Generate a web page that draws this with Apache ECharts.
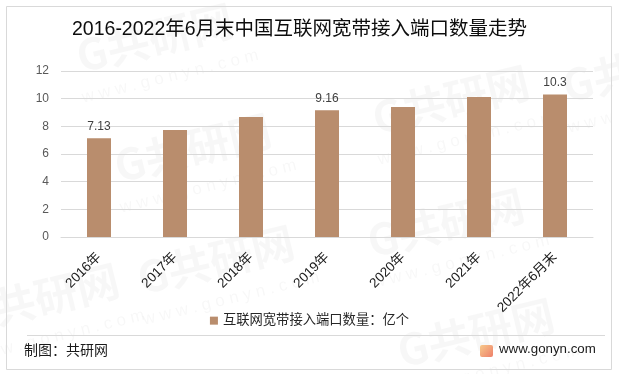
<!DOCTYPE html>
<html>
<head>
<meta charset="utf-8">
<style>
    html, body { margin: 0; padding: 0; background: #fff; }
    #chart { width: 619px; height: 374px; }
</style>
<script src="https://cdn.jsdelivr.net/npm/echarts@6/dist/echarts.min.js"></script>
</head>
<body>
<div id="chart"></div>
<script>
const categories = ['2016年', '2017年', '2018年', '2019年', '2020年', '2021年', '2022年6月末'];
const portValues = [7.13, 7.74, 8.68, 9.16, 9.4, 10.12, 10.3];
const labeledIndexes = [0, 3, 6];
const seriesName = '互联网宽带接入端口数量：亿个';
const titleText = '2016-2022年6月末中国互联网宽带接入端口数量走势';
const sourceText = '制图：共研网';
const siteText = 'www.gonyn.com';
const fontFamily = '"Liberation Sans", "Noto Sans CJK SC", sans-serif';

// 水印位置
const watermarks = [[72, 36], [110, 146], [368, 98], [133, 258], [363, 221], [393, 331], [-42, 296], [558, 66]];

const markGraphic = [];
watermarks.forEach((p) => {
    markGraphic.push({
        type: 'text', x: p[0], y: p[1], rotation: 0.24, z: -10, silent: true,
        style: { text: 'G共研网', fill: 'rgba(0,0,0,0.03)', font: 'bold 43px "Noto Sans CJK SC"' }
    });
    markGraphic.push({
        type: 'text', x: p[0] + 8, y: p[1] + 54, rotation: 0.24, z: -10, silent: true,
        style: { text: 'w w w . g o n y n . c o m', fill: 'rgba(0,0,0,0.03)', font: '17px "Liberation Sans"' }
    });
});

const chart = echarts.init(document.getElementById('chart'), null, { renderer: 'canvas' });
chart.setOption({
    animation: false,
    backgroundColor: '#fff',
    title: {
        text: titleText,
        left: 72,
        top: 20,
        padding: 0,
        textStyle: { color: '#0d0d0d', fontSize: 19.5, fontWeight: 'normal', fontFamily: fontFamily }
    },
    legend: {
        data: [seriesName],
        top: 314,
        left: 'center',
        padding: 0,
        itemWidth: 8,
        itemHeight: 8,
        icon: 'rect',
        itemGap: 4,
        textStyle: { color: '#262626', fontSize: 13.3, fontFamily: fontFamily }
    },
    grid: { left: 61, right: 26, top: 71, bottom: 137 },
    xAxis: {
        type: 'category',
        data: categories,
        axisLine: { lineStyle: { color: '#d9d9d9', width: 1 } },
        axisTick: { show: false },
        axisLabel: { rotate: 45, color: '#1a1a1a', fontSize: 13.5, fontFamily: fontFamily, margin: 18, interval: 0 }
    },
    yAxis: {
        type: 'value',
        min: 0,
        max: 12,
        interval: 2,
        axisLine: { show: false },
        axisTick: { show: false },
        axisLabel: { color: '#595959', fontSize: 12, fontFamily: fontFamily, margin: 12, padding: [2, 0, 0, 0] },
        splitLine: { lineStyle: { color: '#d9d9d9', width: 1 } }
    },
    series: [
        {
            name: seriesName,
            type: 'bar',
            barWidth: 24,
            itemStyle: { color: '#b98d6d' },
            data: portValues.map((v, i) => ({
                value: v,
                label: { show: labeledIndexes.includes(i) }
            })),
            label: {
                position: 'top',
                distance: 6,
                color: '#404040',
                fontSize: 12,
                fontFamily: fontFamily
            },
            z: 3
        }
    ],
    graphic: markGraphic.concat([
        {
            type: 'rect', z: 1, silent: true,
            shape: { x: 6.5, y: 6.5, width: 605, height: 363 },
            style: { fill: 'none', stroke: '#d9d9d9', lineWidth: 1 }
        },
        {
            type: 'line', z: 1, silent: true,
            shape: { x1: 27, y1: 335.5, x2: 605, y2: 335.5 },
            style: { stroke: '#d9d9d9', lineWidth: 1 }
        },
        {
            type: 'text', x: 24, y: 343, z: 5,
            style: { text: sourceText, fill: '#1a1a1a', font: '14px "Noto Sans CJK SC"' }
        },
        {
            type: 'rect', z: 5,
            shape: { x: 480, y: 345, width: 13, height: 12, r: 2 },
            style: {
                fill: new echarts.graphic.LinearGradient(0, 0, 1, 1, [
                    { offset: 0, color: '#f7c98a' },
                    { offset: 1, color: '#ee7f6a' }
                ])
            }
        },
        {
            type: 'text', x: 499, y: 343, z: 5,
            style: { text: siteText, fill: '#1a1a1a', font: '13.3px "Liberation Sans"' }
        }
    ])
});
</script>
</body>
</html>
